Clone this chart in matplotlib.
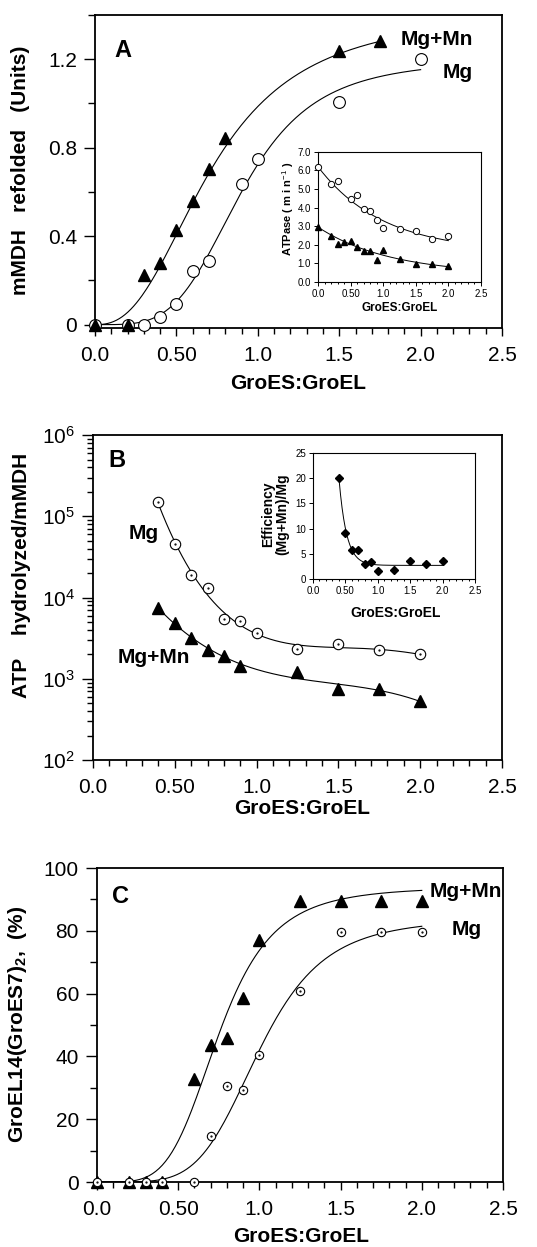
import numpy as np
import matplotlib
matplotlib.use("Agg")
import matplotlib.pyplot as plt
from matplotlib.ticker import MultipleLocator, LogLocator, NullFormatter

plt.rcParams['font.family'] = ['Liberation Sans', 'DejaVu Sans']
plt.rcParams['mathtext.fontset'] = 'custom'
plt.rcParams['mathtext.rm'] = 'Liberation Sans'
plt.rcParams['mathtext.bf'] = 'Liberation Sans:bold'

# ---- data ----
x_ticks = [0.0, 0.5, 1.0, 1.5, 2.0, 2.5]
x_tick_labels = ['0.0', '0.50', '1.0', '1.5', '2.0', '2.5']

# panel A: refolded mMDH
a_mn_x = [0.0, 0.2, 0.3, 0.4, 0.5, 0.6, 0.7, 0.8, 1.5, 1.75]
a_mn_y = [0.0, 0.0, 0.226, 0.278, 0.429, 0.559, 0.704, 0.842, 1.237, 1.283]
a_mg_x = [0.0, 0.2, 0.3, 0.4, 0.5, 0.6, 0.7, 0.9, 1.0, 1.5, 2.0]
a_mg_y = [0.0, 0.0, 0.0, 0.033, 0.093, 0.241, 0.289, 0.638, 0.749, 1.005, 1.2]
# hill fits (vmax, k, n)
a_mn_fit = (1.42, 0.72, 2.5)
a_mg_fit = (1.2, 0.9, 4.0)

# inset A: ATPase rate
ia_x = [0.0, 0.2, 0.3, 0.4, 0.5, 0.6, 0.7, 0.8, 0.9, 1.0, 1.25, 1.5, 1.75, 2.0]
ia_mg_x = [0.0, 0.2, 0.3, 0.5, 0.6, 0.7, 0.8, 0.9, 1.0, 1.25, 1.5, 1.75, 2.0]
ia_mg_y = [6.17, 5.28, 5.42, 4.47, 4.70, 3.95, 3.81, 3.36, 2.89, 2.85, 2.76, 2.33, 2.46]
ia_mn_y = [2.94, 2.46, 2.05, 2.15, 2.19, 1.87, 1.65, 1.65, 1.2, 1.71, 1.24, 0.97, 0.99, 0.88]
# exponential decay fits (amplitude, rate, offset)
ia_mg_fit = (4.6, 1.0, 1.6)
ia_mn_fit = (2.55, 0.9, 0.4)

# panel B: ATP hydrolyzed per mMDH
b_x = [0.4, 0.5, 0.6, 0.7, 0.8, 0.9, 1.0, 1.25, 1.5, 1.75, 2.0]
b_mg_y = [1.48e5, 4.6e4, 1.87e4, 1.32e4, 5.5e3, 5.1e3, 3.7e3, 2.3e3, 2.65e3, 2.24e3, 2.0e3]
b_mn_x = [0.4, 0.5, 0.6, 0.7, 0.8, 0.9, 1.25, 1.5, 1.75, 2.0]
b_mn_y = [7.4e3, 4.9e3, 3.2e3, 2.26e3, 1.91e3, 1.45e3, 1.2e3, 7.4e2, 7.4e2, 5.3e2]

# inset B: efficiency ratio
ib_x = [0.4, 0.5, 0.6, 0.7, 0.8, 0.9, 1.0, 1.25, 1.5, 1.75, 2.0]
ib_y = [20.0, 9.2, 5.7, 5.7, 2.9, 3.3, 1.5, 1.7, 3.5, 2.9, 3.5]
ib_fit = (17.3, 8.6, 2.7)

# panel C: GroEL14(GroES7)2 complex
c_x = [0.0, 0.2, 0.3, 0.4, 0.6, 0.7, 0.8, 0.9, 1.0, 1.25, 1.5, 1.75, 2.0]
c_mn_y = [0, 0, 0, 0, 32.8, 43.5, 45.8, 58.6, 77.1, 89.6, 89.6, 89.6, 89.6]
c_mg_y = [0, 0, 0, 0, 0, 14.7, 30.5, 29.3, 40.5, 60.8, 79.5, 79.5, 79.5]
c_mn_fit = (94, 0.75, 4.5)
c_mg_fit = (84, 1.0, 5.0)


def hill(x, p):
    vmax, k, n = p
    return vmax * x ** n / (k ** n + x ** n)


def decay(x, p, x0=0.0):
    amp, rate, off = p
    return amp * np.exp(-rate * (x - x0)) + off


def style_main(ax):
    ax.set_xlim(0, 2.5)
    ax.set_xticks(x_ticks)
    ax.set_xticklabels(x_tick_labels)
    ax.xaxis.set_minor_locator(MultipleLocator(0.1))
    ax.tick_params(which='both', direction='out', top=False, right=False,
                   labelsize=15, width=1.0)
    ax.tick_params(axis='x', which='major', length=6, pad=7)
    ax.tick_params(axis='x', which='minor', length=4)
    ax.tick_params(axis='y', which='major', length=8, pad=5)
    ax.tick_params(axis='y', which='minor', length=5)
    for s in ax.spines.values():
        s.set_linewidth(1.3)


def style_inset(ax):
    ax.set_xlim(0, 2.5)
    ax.set_xticks(x_ticks)
    ax.set_xticklabels(x_tick_labels)
    ax.xaxis.set_minor_locator(MultipleLocator(0.1))
    ax.tick_params(which='both', direction='out', top=False, right=False,
                   labelsize=7, width=0.7, pad=2)
    ax.tick_params(which='major', length=3)
    ax.tick_params(which='minor', length=1.5)
    for s in ax.spines.values():
        s.set_linewidth(0.8)


def open_circles(ax, x, y, ms, dot=True):
    ax.plot(x, y, 'o', ms=ms, mfc='white', mec='black', mew=0.8, zorder=4, clip_on=False)
    if dot:
        ax.plot(x, y, '.', ms=1.2, color='black', zorder=5, clip_on=False)


fig = plt.figure(figsize=(5.37, 12.47), dpi=100)

# ---------------- panel A ----------------
axA = fig.add_axes([0.1769, 0.737, 0.758, 0.251])
style_main(axA)
axA.set_ylim(-0.015, 1.4)
axA.set_yticks([0, 0.4, 0.8, 1.2])
axA.set_yticklabels(['0', '0.4', '0.8', '1.2'])
axA.yaxis.set_minor_locator(MultipleLocator(0.2))
xs = np.linspace(0, 1.75, 200)
axA.plot(xs, hill(xs, a_mn_fit), color='black', lw=0.8)
xs = np.linspace(0.0, 2.0, 200)
axA.plot(xs, hill(xs, a_mg_fit), color='black', lw=0.8)
open_circles(axA, a_mg_x, a_mg_y, 8.5, dot=False)
axA.plot(a_mn_x, a_mn_y, '^', ms=8, color='black', zorder=6, clip_on=False)
axA.text(0.069, 0.888, 'A', transform=axA.transAxes, fontsize=17, fontweight='bold',
         ha='center', va='center')
axA.text(0.929, 0.923, 'Mg+Mn', transform=axA.transAxes, fontsize=15, fontweight='bold',
         ha='right', va='center')
axA.text(0.929, 0.815, 'Mg', transform=axA.transAxes, fontsize=15, fontweight='bold',
         ha='right', va='center')
axA.text(-0.182, 0.505, 'mMDH   refolded   (Units)', transform=axA.transAxes, fontsize=15,
         fontweight='bold', rotation=90, ha='center', va='center')
axA.text(0.499, -0.176, 'GroES:GroEL', transform=axA.transAxes, fontsize=15,
         fontweight='bold', ha='center', va='center')

# inset A
iA = fig.add_axes([0.5922, 0.7739, 0.3035, 0.1043])
style_inset(iA)
iA.set_ylim(0, 7)
iA.set_yticks(np.arange(0, 7.5, 1.0))
iA.set_yticklabels(['%.1f' % v for v in np.arange(0, 7.5, 1.0)])
xs = np.linspace(0, 2.0, 200)
iA.plot(xs, decay(xs, ia_mg_fit), color='black', lw=0.7)
iA.plot(xs, decay(xs, ia_mn_fit), color='black', lw=0.7)
iA.plot(ia_mg_x, ia_mg_y, 'o', ms=4.5, mfc='white', mec='black', mew=0.7, clip_on=False, zorder=4)
iA.plot(ia_x, ia_mn_y, '^', ms=4.5, color='black', clip_on=False, zorder=4)
iA.text(-0.184, 0.56, 'ATPase ( m i n$^{-1}$ )', transform=iA.transAxes, fontsize=8,
        fontweight='bold', rotation=90, ha='center', va='center')
iA.text(0.503, -0.2, 'GroES:GroEL', transform=iA.transAxes, fontsize=8.5,
        fontweight='bold', ha='center', va='center')

# ---------------- panel B ----------------
axB = fig.add_axes([0.1732, 0.3905, 0.7616, 0.2606])
style_main(axB)
axB.set_yscale('log')
axB.set_ylim(1e2, 1e6)
axB.yaxis.set_major_locator(LogLocator(base=10, numticks=10))
axB.yaxis.set_minor_locator(LogLocator(base=10, subs=np.arange(2, 10), numticks=20))
axB.yaxis.set_minor_formatter(NullFormatter())
axB.tick_params(axis='y', which='minor', length=4)
# polynomial fits in log space
xs = np.linspace(0.4, 2.0, 200)
pmg = np.polyfit(b_x, np.log10(b_mg_y), 4)
pmn = np.polyfit(b_mn_x, np.log10(b_mn_y), 3)
axB.plot(xs, 10 ** np.polyval(pmg, xs), color='black', lw=0.8)
axB.plot(xs, 10 ** np.polyval(pmn, xs), color='black', lw=0.8)
open_circles(axB, b_x, b_mg_y, 7.5)
axB.plot(b_mn_x, b_mn_y, '^', ms=8, color='black', zorder=6)
axB.text(0.059, 0.923, 'B', transform=axB.transAxes, fontsize=17, fontweight='bold',
         ha='center', va='center')
axB.text(0.086, 0.698, 'Mg', transform=axB.transAxes, fontsize=15, fontweight='bold',
         ha='left', va='center')
axB.text(0.061, 0.317, 'Mg+Mn', transform=axB.transAxes, fontsize=15, fontweight='bold',
         ha='left', va='center')
axB.text(-0.176, 0.569, 'ATP    hydrolyzed/mMDH', transform=axB.transAxes, fontsize=15,
         fontweight='bold', rotation=90, ha='center', va='center')
axB.text(0.511, -0.148, 'GroES:GroEL', transform=axB.transAxes, fontsize=15,
         fontweight='bold', ha='center', va='center')

# inset B
iB = fig.add_axes([0.5829, 0.5357, 0.3017, 0.1010])
style_inset(iB)
iB.set_ylim(0, 25)
iB.set_yticks([0, 5, 10, 15, 20, 25])
xs = np.linspace(0.4, 2.0, 200)
iB.plot(xs, decay(xs, ib_fit, 0.4), color='black', lw=0.7)
iB.plot(ib_x, ib_y, 'D', ms=4.5, color='black', zorder=4)
iB.text(-0.235, 0.516, 'Efficiency\n(Mg+Mn)/Mg', transform=iB.transAxes, fontsize=10,
        fontweight='bold', rotation=90, ha='center', va='center', linespacing=1.0)
iB.text(0.512, -0.27, 'GroES:GroEL', transform=iB.transAxes, fontsize=10,
        fontweight='bold', ha='center', va='center')

# ---------------- panel C ----------------
axC = fig.add_axes([0.1806, 0.0521, 0.756, 0.2518])
style_main(axC)
axC.set_ylim(0, 100)
axC.set_yticks([0, 20, 40, 60, 80, 100])
axC.yaxis.set_minor_locator(MultipleLocator(10))
xs = np.linspace(0, 2.0, 200)
axC.plot(xs, hill(xs, c_mn_fit), color='black', lw=0.8)
axC.plot(xs, hill(xs, c_mg_fit), color='black', lw=0.8)
axC.plot(c_x, c_mn_y, '^', ms=8, color='black', zorder=4, clip_on=False)
open_circles(axC, c_x, c_mg_y, 6)
axC.text(0.059, 0.908, 'C', transform=axC.transAxes, fontsize=17, fontweight='bold',
         ha='center', va='center')
axC.text(0.9975, 0.924, 'Mg+Mn', transform=axC.transAxes, fontsize=15, fontweight='bold',
         ha='right', va='center')
axC.text(0.948, 0.803, 'Mg', transform=axC.transAxes, fontsize=15, fontweight='bold',
         ha='right', va='center')
axC.text(-0.195, 0.503, 'GroEL14(GroES7)$_\\mathbf{2}$,  (%)', transform=axC.transAxes,
         fontsize=15, fontweight='bold', rotation=90, ha='center', va='center')
axC.text(0.502, -0.175, 'GroES:GroEL', transform=axC.transAxes, fontsize=15,
         fontweight='bold', ha='center', va='center')

fig.savefig('out.png', dpi=100)
